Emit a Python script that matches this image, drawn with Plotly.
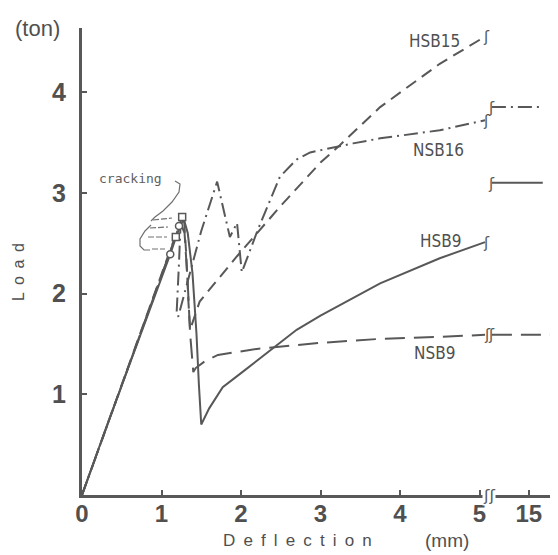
import plotly.graph_objects as go

# ---------------- data (deflection in mm, load in ton) ----------------
hsb9_x = [0, 0.3, 1.11, 1.2, 1.28, 1.33, 1.39, 1.44, 1.47, 1.50, 1.6, 1.77, 2.0, 2.21, 2.7, 3.0, 3.75, 4.5, 5.07]
hsb9_y = [0, 0.66, 2.39, 2.6, 2.74, 2.6, 2.2, 1.6, 1.1, 0.70, 0.86, 1.07, 1.21, 1.34, 1.64, 1.78, 2.10, 2.35, 2.51]

hsb15_x = [0, 1.26, 1.28, 1.31, 1.34, 1.36, 1.42, 1.48, 1.95, 2.5, 3.0, 3.24, 3.75, 4.5, 5.07]
hsb15_y = [0, 2.76, 2.78, 2.4, 1.9, 1.64, 1.78, 1.92, 2.37, 2.87, 3.30, 3.47, 3.85, 4.28, 4.55]

nsb16_x = [0, 1.22, 1.24, 1.22, 1.19, 1.21, 1.36, 1.5, 1.70, 1.86, 1.95, 2.01, 2.21, 2.49, 2.70, 2.87, 3.41, 3.75, 4.5, 5.07]
nsb16_y = [0, 2.67, 2.70, 2.3, 1.8, 1.77, 2.2, 2.62, 3.11, 2.56, 2.70, 2.21, 2.63, 3.16, 3.33, 3.40, 3.49, 3.54, 3.62, 3.72]

nsb9_x = [0, 1.18, 1.24, 1.29, 1.33, 1.36, 1.40, 1.43, 1.55, 1.71, 2.2, 3.0, 3.75, 4.5, 5.07]
nsb9_y = [0, 2.56, 2.70, 2.6, 2.1, 1.6, 1.22, 1.26, 1.33, 1.39, 1.45, 1.51, 1.55, 1.57, 1.59]

crack_x = [1.11, 1.18, 1.22, 1.26]
crack_y = [2.39, 2.56, 2.67, 2.76]

# values beyond the axis break (real mm)
far_x = [12.1, 16.1]
far_x_nsb9 = [12.1, 16.9]
hsb9_far_y = [3.10, 3.10]
nsb16_far_y = [3.85, 3.85]
nsb9_far_y = [1.59, 1.59]

x_ticks = [0, 1, 2, 3, 4, 5, 15]
y_ticks = [1, 2, 3, 4]

# ---------------- helpers ----------------
def brk(v):
    """map real deflection to the plotted (broken) axis"""
    return v if v <= 5.3 else 5.62 + (v - 15) * 0.16

def bl(vals):
    return [brk(v) for v in vals]

# page-pixel helpers for decorations only (page has an 8px body margin)
PLOT_L, PLOT_B, PW, PH = 82, 495, 476, 467
def px(xp):
    return (xp - PLOT_L) / 79.5

def py(yp):
    return (PLOT_B - yp) / 100.75

def ppx(xp):
    return (xp - PLOT_L) / PW

def ppy(yp):
    return (PLOT_B - yp) / PH

C = "#585858"
W = 2

fig = go.Figure()
fig.add_trace(go.Scatter(x=bl(hsb15_x), y=hsb15_y, mode="lines",
                         line=dict(color=C, width=W, dash="12px,7px")))
fig.add_trace(go.Scatter(x=bl(nsb16_x), y=nsb16_y, mode="lines",
                         line=dict(color=C, width=W, dash="14px,5px,2px,5px")))
fig.add_trace(go.Scatter(x=bl(nsb9_x), y=nsb9_y, mode="lines",
                         line=dict(color=C, width=W, dash="20px,9px")))
fig.add_trace(go.Scatter(x=bl(hsb9_x), y=hsb9_y, mode="lines",
                         line=dict(color=C, width=W)))
# beyond break
fig.add_trace(go.Scatter(x=bl(far_x), y=nsb16_far_y, mode="lines",
                         line=dict(color=C, width=W, dash="14px,5px,2px,5px")))
fig.add_trace(go.Scatter(x=bl(far_x), y=hsb9_far_y, mode="lines",
                         line=dict(color=C, width=W)))
fig.add_trace(go.Scatter(x=bl(far_x_nsb9), y=nsb9_far_y, mode="lines",
                         line=dict(color=C, width=W, dash="20px,9px")))
# cracking markers
fig.add_trace(go.Scatter(x=crack_x, y=crack_y, mode="markers",
                         marker=dict(symbol=["circle", "square", "circle", "square"],
                                     size=7, color="white",
                                     line=dict(color=C, width=1.5))))

annotations = []
lab_font = dict(family="DejaVu Sans Condensed, Liberation Sans Narrow, sans-serif", size=17, color="#505050")
for txt, xp, yp in [("HSB15", 434, 41), ("NSB16", 438, 150),
                    ("HSB9", 440, 241), ("NSB9", 434, 353)]:
    annotations.append(dict(x=px(xp), y=py(yp), text=txt, showarrow=False,
                            font=lab_font, xanchor="center", yanchor="middle"))

annotations.append(dict(x=px(130), y=py(178), text="cracking", showarrow=False,
                        xanchor="center", yanchor="middle",
                        font=dict(family="DejaVu Sans Mono, Liberation Mono, monospace", size=13, color="#606060")))

# break squiggles
sq_font = dict(family="DejaVu Sans", size=15, color=C)
for xp, yp in [(486, 37), (486, 121), (491, 108), (486, 243), (491, 184), (487, 335), (491, 335)]:
    annotations.append(dict(x=px(xp), y=py(yp), text="ʃ", showarrow=False, font=sq_font,
                            xanchor="center", yanchor="middle"))
annotations.append(dict(x=px(489), y=py(495), text="ʃʃ", showarrow=False,
                        font=dict(family="DejaVu Sans", size=16, color=C),
                        bgcolor="white", xanchor="center", yanchor="middle", borderpad=0))

# axis titles (placed in page pixels, converted to paper coordinates)
sp = " \u2009"
tfont = dict(family="Liberation Sans, Arial", size=17, color="#505050")
for txt, xp, yp, ang, fs in [("(ton)", 37, 28, 0, 22), (sp.join("Load"), 18, 272, -90, 16),
                             (sp.join("Deflection"), 297, 540, 0, 17), ("(mm)", 447, 540, 0, 19)]:
    annotations.append(dict(x=ppx(xp), y=ppy(yp), xref="paper", yref="paper", text=txt,
                            showarrow=False, textangle=ang, xanchor="center", yanchor="middle",
                            font=dict(tfont, size=fs)))

# cracking bracket and leader lines
shapes = []
def pth(points, dash="solid"):
    d = "M " + " L ".join(f"{px(a)},{py(b)}" for a, b in points)
    shapes.append(dict(type="path", path=d, xref="x", yref="y",
                       line=dict(color="#707070", width=1.2, dash=dash)))

pth([(175, 181), (180, 184), (179, 192), (172, 202), (163, 211), (155, 217), (151, 221)])
pth([(151, 225), (145, 231), (140, 239), (140, 246), (144, 250), (150, 250)])
pth([(153, 220), (172, 218)], dash="6px,2px")
pth([(150, 228), (168, 227)], dash="6px,2px")
pth([(148, 237), (167, 237)], dash="6px,2px")
pth([(152, 249), (165, 249)], dash="6px,2px")

fig.update_layout(
    width=550, height=547,
    margin=dict(l=PLOT_L - 8, r=0, t=20, b=60),
    paper_bgcolor="white", plot_bgcolor="white",
    showlegend=False,
    annotations=annotations,
    shapes=shapes,
)
fig.update_xaxes(range=[0, PW / 79.5], tickvals=[brk(v) for v in x_ticks],
                 ticktext=[str(v) for v in x_ticks],
                 showgrid=False, zeroline=False, showline=True, linecolor=C, linewidth=3,
                 ticks="inside", ticklen=5, tickwidth=1.5, tickcolor=C,
                 ticklabelstandoff=-5, automargin=False,
                 tickfont=dict(family="Liberation Sans, Arial", size=24, color="#505050", weight="bold"))
fig.update_yaxes(range=[0, PH / 100.75], tickvals=y_ticks,
                 showgrid=False, zeroline=False, showline=True, linecolor=C, linewidth=3,
                 ticks="inside", ticklen=5, tickwidth=1.5, tickcolor=C,
                 ticklabelstandoff=8, automargin=False,
                 tickfont=dict(family="Liberation Sans, Arial", size=25, color="#505050", weight="bold"))

fig.write_html("out.html")
